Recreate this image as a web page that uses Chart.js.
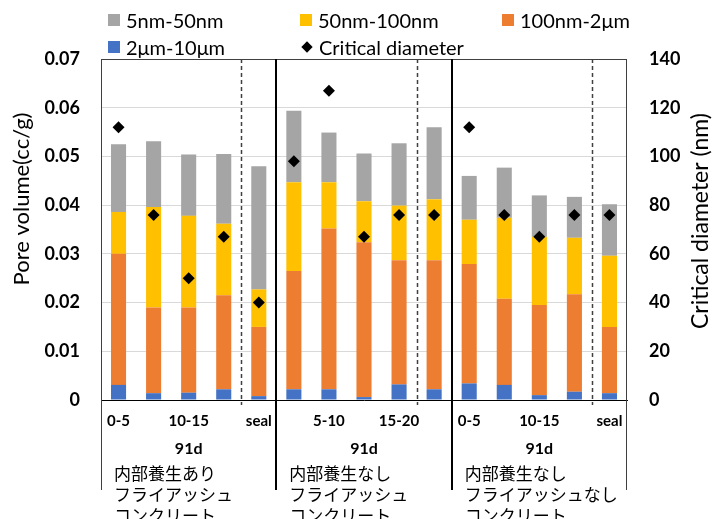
<!DOCTYPE html>
<html>
<head>
<meta charset="utf-8">
<script src="https://cdn.jsdelivr.net/npm/chart.js@4.4.1/dist/chart.umd.min.js"></script>
<style>
  html, body { margin: 0; padding: 0; background: #fff; }
  #wrap { position: relative; width: 714px; height: 519px; }
  #legend {
    position: absolute; left: 108px; top: 6px;
    display: grid; grid-template-columns: 192px 202px 200px; grid-auto-rows: 27px;
    font-family: Lato, "Noto Sans", sans-serif; font-size: 20px; color: #000;
  }
  .item { display: flex; align-items: center; white-space: nowrap; }
  .swatch { width: 12px; height: 12px; margin-right: 6px; }
  .diamond { width: 8px; height: 8px; background: #000; transform: rotate(45deg); margin: 0 8px 0 3px; }
</style>
</head>
<body>
<div id="wrap">
  <canvas id="c" width="714" height="519"></canvas>
  <div id="legend"></div>
</div>
<script>
// Sampling depths (mm) per specimen, repeated for each concrete type
const depths = ['0-5', '5-10', '10-15', '15-20', 'seal'];
const categories = [...depths, ...depths, ...depths];

// Pore volume per size class (cc/g)
const pores5to50nm    = [0.0139, 0.0135, 0.0126, 0.0143, 0.0253,  0.0147, 0.0102, 0.0098, 0.0128, 0.0148,  0.0090, 0.0103, 0.0085, 0.0084, 0.0106];
const pores50to100nm  = [0.0086, 0.0206, 0.0188, 0.0147, 0.0077,  0.0182, 0.0095, 0.0084, 0.0112, 0.0125,  0.0091, 0.0166, 0.0140, 0.0116, 0.0146];
const pores100nmTo2um = [0.0269, 0.0176, 0.0175, 0.0193, 0.0142,  0.0243, 0.0330, 0.0318, 0.0255, 0.0265,  0.0245, 0.0177, 0.0185, 0.0200, 0.0136];
const pores2to10um    = [0.0031, 0.0014, 0.0015, 0.0022, 0.0008,  0.0022, 0.0022, 0.0006, 0.0032, 0.0022,  0.0034, 0.0031, 0.0010, 0.0017, 0.0014];

// Critical pore diameter (nm)
const criticalDiameter = [112, 76, 50, 67, 40,  98, 127, 67, 76, 76,  112, 76, 67, 76, 76];

// Axis ticks
const volumeTicks = [0, 0.01, 0.02, 0.03, 0.04, 0.05, 0.06, 0.07];
const diameterTicks = [0, 20, 40, 60, 80, 100, 120, 140];

// Group annotations below the axis
const groupSize = 5;
const ageLabels = ['91d', '91d', '91d'];
const groupNotes = [
  ['内部養生あり', 'フライアッシュ', 'コンクリート'],
  ['内部養生なし', 'フライアッシュ', 'コンクリート'],
  ['内部養生なし', 'フライアッシュなし', 'コンクリート']
];

const COLORS = { gray: '#A5A5A5', yellow: '#FFC000', orange: '#ED7D31', blue: '#4472C4' };
const LATIN = 'Lato, "Noto Sans", sans-serif';

const barBase = { type: 'bar', yAxisID: 'y', stack: 'pv', order: 2, barPercentage: 0.43, categoryPercentage: 1.0 };

const datasets = [
  { ...barBase, label: '2μm-10μm', data: pores2to10um, backgroundColor: COLORS.blue },
  { ...barBase, label: '100nm-2μm', data: pores100nmTo2um, backgroundColor: COLORS.orange },
  { ...barBase, label: '50nm-100nm', data: pores50to100nm, backgroundColor: COLORS.yellow },
  { ...barBase, label: '5nm-50nm', data: pores5to50nm, backgroundColor: COLORS.gray },
  { type: 'line', label: 'Critical diameter', data: criticalDiameter, yAxisID: 'y1', order: 0,
    showLine: false, pointStyle: 'rectRot', pointRadius: 6, pointHoverRadius: 6,
    backgroundColor: '#000', borderColor: '#000', borderWidth: 0 }
];

// Frame, separators, axis titles and group annotations
const decorations = {
  id: 'decorations',
  afterDraw(chart) {
    const { ctx, chartArea: a, scales } = chart;
    const x = scales.x;
    const bottomLine = 490;
    const boundary = i => (x.getPixelForValue(i - 1) + x.getPixelForValue(i)) / 2;
    ctx.save();

    // top frame line
    ctx.strokeStyle = '#404040'; ctx.lineWidth = 1;
    ctx.beginPath(); ctx.moveTo(a.left, a.top + 0.5); ctx.lineTo(a.right, a.top + 0.5); ctx.stroke();

    // outer left/right borders extending into the annotation area
    ctx.strokeStyle = '#404040'; ctx.lineWidth = 1;
    [a.left + 0.5, a.right - 0.5].forEach(px => {
      ctx.beginPath(); ctx.moveTo(px, a.top); ctx.lineTo(px, bottomLine); ctx.stroke();
    });

    // solid separators between concrete types
    ctx.strokeStyle = '#000'; ctx.lineWidth = 2;
    for (let g = 1; g < groupNotes.length; g++) {
      const px = Math.round(boundary(g * groupSize));
      ctx.beginPath(); ctx.moveTo(px, a.top); ctx.lineTo(px, bottomLine); ctx.stroke();
    }

    // dashed separators before the sealed specimen
    ctx.strokeStyle = '#404040'; ctx.lineWidth = 1.5; ctx.setLineDash([4, 3]);
    for (let g = 0; g < groupNotes.length; g++) {
      const px = Math.round(boundary(g * groupSize + groupSize - 1)) + 0.5;
      ctx.beginPath(); ctx.moveTo(px, a.top); ctx.lineTo(px, a.bottom + 5); ctx.stroke();
    }
    ctx.setLineDash([]);

    // group annotations
    ctx.fillStyle = '#000';
    for (let g = 0; g < groupNotes.length; g++) {
      const left = g === 0 ? a.left : boundary(g * groupSize);
      const right = g === groupNotes.length - 1 ? a.right : boundary((g + 1) * groupSize);
      ctx.font = `bold 16px ${LATIN}`;
      ctx.textAlign = 'center'; ctx.textBaseline = 'middle';
      ctx.fillText(ageLabels[g], (left + right) / 2, 449);
      ctx.font = '17px "Noto Sans CJK JP", sans-serif';
      ctx.textAlign = 'left';
      groupNotes[g].forEach((line, k) => ctx.fillText(line, left + 13, 474 + k * 21));
    }

    // axis titles
    ctx.textAlign = 'center'; ctx.textBaseline = 'middle';
    ctx.font = `22px ${LATIN}`;
    ctx.save(); ctx.translate(22, 199); ctx.rotate(-Math.PI / 2);
    ctx.fillText('Pore volume(cc/g)', 0, 0); ctx.restore();
    ctx.font = `23px ${LATIN}`;
    ctx.save(); ctx.translate(701, 221); ctx.rotate(-Math.PI / 2);
    ctx.fillText('Critical diameter (nm)', 0, 0); ctx.restore();

    ctx.restore();
  }
};

const chart = new Chart(document.getElementById('c'), {
  data: { labels: categories, datasets },
  options: {
    responsive: false,
    animation: false,
    layout: { padding: { top: 59, left: 0, right: 0, bottom: 0 } },
    plugins: { legend: { display: false }, tooltip: { enabled: false } },
    scales: {
      x: {
        stacked: true,
        grid: { display: false, drawTicks: false },
        border: { display: true, color: '#000', width: 1 },
        ticks: {
          autoSkip: false, maxRotation: 0, minRotation: 0, padding: 12, color: '#000',
          font: { family: LATIN, size: 15, weight: 'bold' },
          callback: (v, i) => (i % 2 === 0 ? categories[i] : '')
        },
        afterFit: s => { s.height = 119; }
      },
      y: {
        type: 'linear', position: 'left', stacked: true,
        min: volumeTicks[0], max: volumeTicks[volumeTicks.length - 1],
        afterBuildTicks: s => { s.ticks = volumeTicks.map(v => ({ value: v })); },
        grid: { color: '#D9D9D9', lineWidth: 1, drawTicks: false },
        border: { display: false },
        ticks: {
          padding: 21, color: '#000',
          font: { family: LATIN, size: 18, weight: 'bold' },
          callback: v => (v === 0 ? '0' : v.toFixed(2))
        },
        afterFit: s => { s.width = 101; }
      },
      y1: {
        type: 'linear', position: 'right',
        min: diameterTicks[0], max: diameterTicks[diameterTicks.length - 1],
        afterBuildTicks: s => { s.ticks = diameterTicks.map(v => ({ value: v })); },
        grid: { display: false, drawTicks: false },
        border: { display: false },
        ticks: {
          padding: 22, color: '#000',
          font: { family: LATIN, size: 18, weight: 'bold' },
          callback: v => String(v)
        },
        afterFit: s => { s.width = 87; }
      }
    }
  },
  plugins: [decorations]
});

// HTML legend built from the datasets, in display order
const legendOrder = ['5nm-50nm', '50nm-100nm', '100nm-2μm', '2μm-10μm', 'Critical diameter'];
const legendEl = document.getElementById('legend');
legendOrder.forEach(name => {
  const ds = datasets.find(d => d.label === name);
  const item = document.createElement('div');
  item.className = 'item';
  const mark = document.createElement('span');
  if (ds.type === 'bar') { mark.className = 'swatch'; mark.style.background = ds.backgroundColor; }
  else { mark.className = 'diamond'; }
  item.appendChild(mark);
  item.appendChild(document.createTextNode(ds.label));
  legendEl.appendChild(item);
});
</script>
</body>
</html>
